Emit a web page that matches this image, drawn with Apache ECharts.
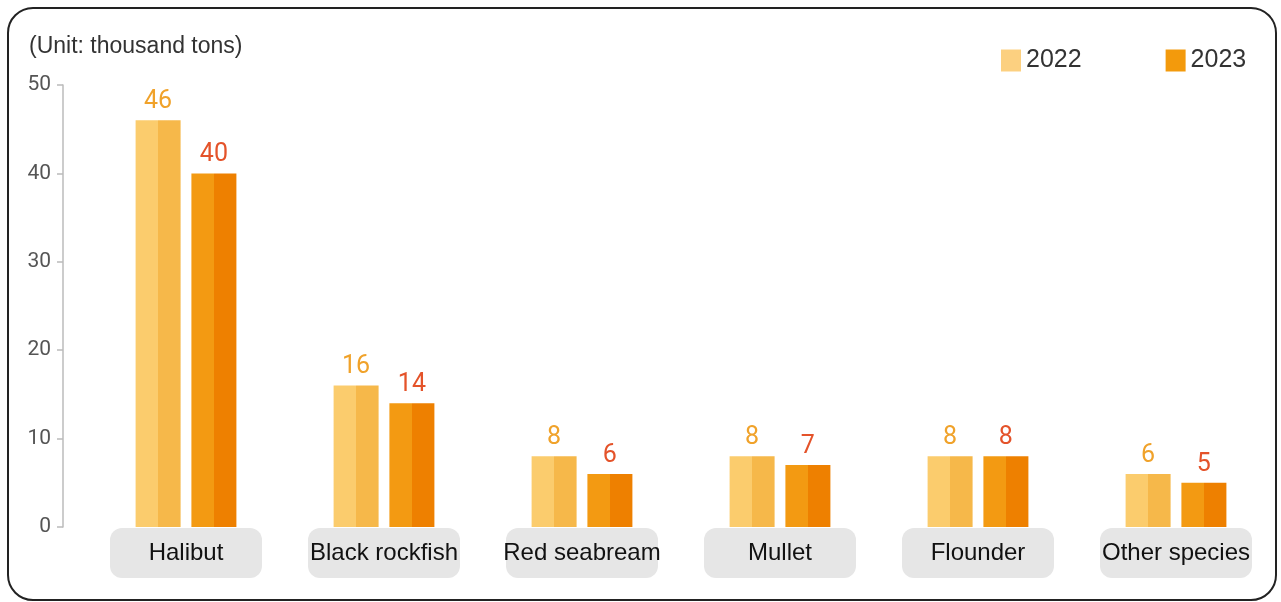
<!DOCTYPE html>
<html>
<head>
<meta charset="utf-8">
<style>
  html, body { margin: 0; padding: 0; background: #fff; }
  #card {
    position: absolute; left: 7px; top: 7px;
    width: 1266px; height: 590px;
    border: 2px solid #222; border-radius: 26px;
  }
  #chart { position: absolute; left: 0; top: 0; width: 1281px; height: 602px; }
</style>
<script src="https://cdn.jsdelivr.net/npm/echarts@6/dist/echarts.min.js"></script>
</head>
<body>
<div id="card"></div>
<div id="chart"></div>
<script>
// 品种（类目）
var species = ['Halibut', 'Black rockfish', 'Red seabream', 'Mullet', 'Flounder', 'Other species'];
// 年度产量（千吨）
var values2022 = [46, 16, 8, 8, 8, 6];
var values2023 = [40, 14, 6, 7, 8, 5];
var years = ['2022', '2023'];

// 左浅右深的双色柱
function twoTone(left, right) {
  return {
    type: 'linear', x: 0, y: 0, x2: 1, y2: 0,
    colorStops: [
      { offset: 0, color: left },
      { offset: 0.5, color: left },
      { offset: 0.5, color: right },
      { offset: 1, color: right }
    ]
  };
}

var myChart = echarts.init(document.getElementById('chart'));
myChart.setOption({
  animation: false,
  title: {
    text: '(Unit: thousand tons)',
    left: 24, top: 30,
    textStyle: { fontFamily: 'Liberation Sans', fontSize: 23, fontWeight: 'normal', color: '#333' }
  },
  legend: {
    left: 996, top: 43,
    itemWidth: 20, itemHeight: 22, itemGap: 84,
    icon: 'rect',
    textStyle: { fontFamily: 'Liberation Sans', fontSize: 25, color: '#333' },
    data: [
      { name: years[0], itemStyle: { color: '#fcd080' } },
      { name: years[1], itemStyle: { color: '#f39a0c' } }
    ]
  },
  grid: { left: 87, right: 6, top: 85, bottom: 75 },
  xAxis: {
    type: 'category',
    data: species,
    axisLine: { show: false },
    axisTick: { show: false },
    axisLabel: {
      interval: 0,
      margin: 1,
      width: 152, height: 50, lineHeight: 50,
      align: 'center',
      backgroundColor: '#e6e6e6',
      borderRadius: 12,
      fontFamily: 'Liberation Sans',
      fontSize: 24,
      color: '#111'
    }
  },
  yAxis: {
    type: 'value',
    min: 0, max: 50, interval: 10,
    offset: 24,
    splitLine: { show: false },
    axisLine: { show: true, lineStyle: { color: '#bbb', width: 1.5 } },
    axisTick: { show: true, length: 6, lineStyle: { color: '#bbb', width: 1.5 } },
    axisLabel: { fontFamily: 'Roboto', fontSize: 21, color: '#555', margin: 12 }
  },
  series: [
    {
      name: years[0], type: 'bar', data: values2022,
      barWidth: 45, barGap: '24%',
      itemStyle: { color: twoTone('#fbcc6d', '#f6b84a') },
      label: {
        show: true, position: 'top', distance: 6,
        fontFamily: 'Roboto', fontSize: 25, color: '#f0a22a'
      }
    },
    {
      name: years[1], type: 'bar', data: values2023,
      barWidth: 45,
      itemStyle: { color: twoTone('#f39a12', '#ee8000') },
      label: {
        show: true, position: 'top', distance: 6,
        fontFamily: 'Roboto', fontSize: 25, color: '#e4532a'
      }
    }
  ]
});
</script>
</body>
</html>
